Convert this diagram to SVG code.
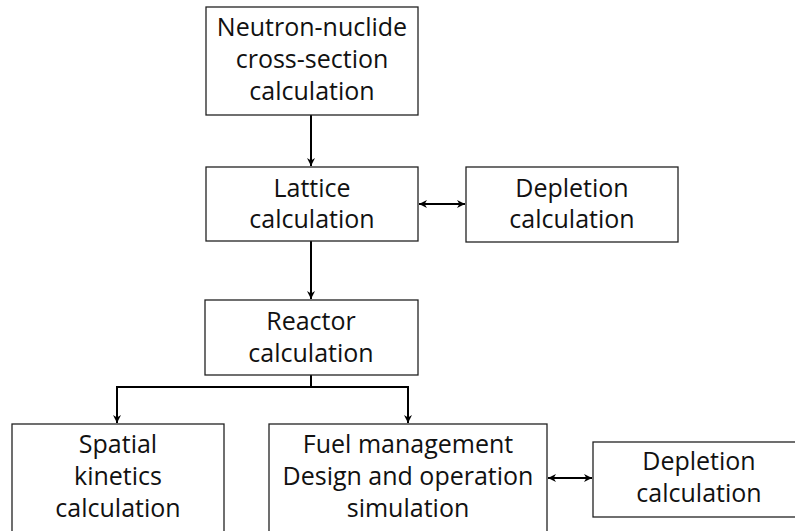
<svg xmlns="http://www.w3.org/2000/svg" width="795" height="531" viewBox="0 0 795 531">
<style>
.box{fill:#fff;stroke:#222;stroke-width:1.3}
.t{font-family:"Open Sans","Liberation Sans",sans-serif;font-size:25px;fill:#111;text-anchor:middle}
.c{fill:none;stroke:#000;stroke-width:2}
</style>
<defs>
<marker id="ah" viewBox="0 0 10 10" refX="10" refY="5" markerWidth="9" markerHeight="8" orient="auto-start-reverse" markerUnits="userSpaceOnUse">
<path d="M0,0 L10,5 L0,10 L3,5 Z" fill="#000"/>
</marker>
</defs>
<rect width="795" height="531" fill="#fff"/>
<g id="connectors">
<line class="c" x1="311" y1="115" x2="311" y2="166" marker-end="url(#ah)"/>
<line class="c" x1="311" y1="241" x2="311" y2="299" marker-end="url(#ah)"/>
<line class="c" x1="419" y1="204" x2="465" y2="204" marker-start="url(#ah)" marker-end="url(#ah)"/>
<path class="c" d="M311,375 V387 M116,387 H409"/>
<line class="c" x1="117" y1="386" x2="117" y2="423" marker-end="url(#ah)"/>
<line class="c" x1="408" y1="386" x2="408" y2="423" marker-end="url(#ah)"/>
<line class="c" x1="548" y1="478" x2="592" y2="478" marker-start="url(#ah)" marker-end="url(#ah)"/>
</g>
<g id="n1"><rect class="box" x="206" y="7" width="212" height="108"/>
<text class="t" x="312" y="36">Neutron-nuclide</text><text class="t" x="312" y="68">cross-section</text><text class="t" x="312" y="100">calculation</text></g>
<g id="n2"><rect class="box" x="206" y="167" width="212" height="74"/>
<text class="t" x="312" y="197">Lattice</text><text class="t" x="312" y="228">calculation</text></g>
<g id="n3"><rect class="box" x="466" y="167" width="212" height="75"/>
<text class="t" x="572" y="197">Depletion</text><text class="t" x="572" y="228">calculation</text></g>
<g id="n4"><rect class="box" x="205" y="300" width="213" height="75"/>
<text class="t" x="311" y="330">Reactor</text><text class="t" x="311" y="362">calculation</text></g>
<g id="n5"><rect class="box" x="12" y="424" width="212" height="120"/>
<text class="t" x="118" y="453">Spatial</text><text class="t" x="118" y="485">kinetics</text><text class="t" x="118" y="517">calculation</text></g>
<g id="n6"><rect class="box" x="269" y="424" width="278" height="120"/>
<text class="t" x="408" y="453">Fuel management</text><text class="t" x="408" y="485">Design and operation</text><text class="t" x="408" y="517">simulation</text></g>
<g id="n7"><rect class="box" x="593" y="442" width="212" height="75"/>
<text class="t" x="699" y="470">Depletion</text><text class="t" x="699" y="502">calculation</text></g>
</svg>
